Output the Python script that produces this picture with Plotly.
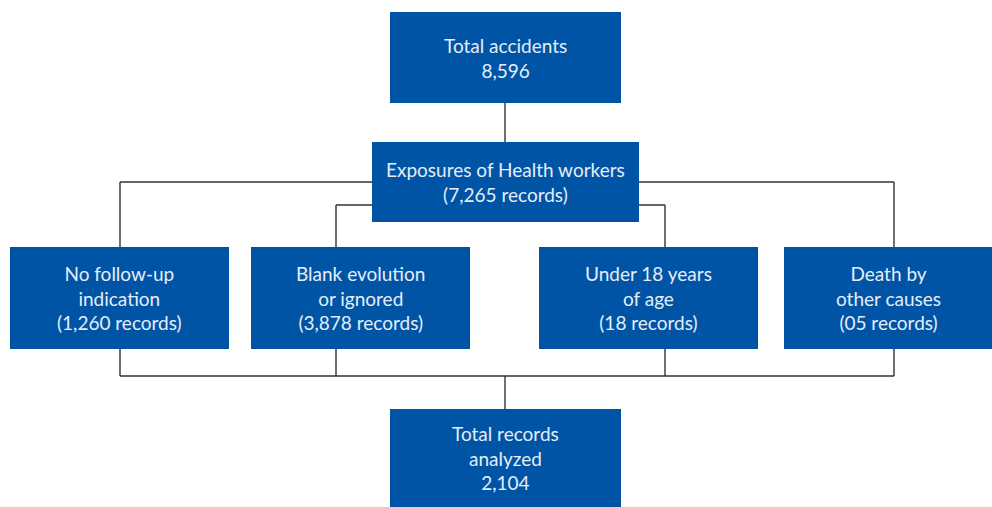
import plotly.graph_objects as go

# Data: box labels (flowchart)
top_label = ["Total accidents", "8,596"]
mid_label = ["Exposures of Health workers", "(7,265 records)"]
excl_labels = [
    ["No follow-up", "indication", "(1,260 records)"],
    ["Blank evolution", "or ignored", "(3,878 records)"],
    ["Under 18 years", "of age", "(18 records)"],
    ["Death by", "other causes", "(05 records)"],
]
bottom_label = ["Total records", "analyzed", "2,104"]

# Layout geometry (pixels)
W, H = 992, 507
BOX = "#0054A6"
LINE = "#333333"
TXT = "#E6EDF6"

top_box = (390, 621, 12, 103)
mid_box = (372, 639, 142, 222)
excl_boxes = [(10, 229, 247, 349), (251, 470, 247, 349), (539, 758, 247, 349), (784, 992, 247, 349)]
bot_box = (390, 621, 409, 507)
conn_x = [120, 336, 665, 894]
outer_y, inner_y, bottom_y = 182, 205, 376

fig = go.Figure()
shapes = []
annotations = []

def line(x0, y0, x1, y1):
    shapes.append(dict(type="line", xref="x", yref="y", x0=x0, y0=y0, x1=x1, y1=y1,
                       line=dict(color=LINE, width=1.4), layer="below"))

def box(b, lines):
    x0, x1, y0, y1 = b
    shapes.append(dict(type="rect", xref="x", yref="y", x0=x0, x1=x1, y0=y0, y1=y1,
                       fillcolor=BOX, line=dict(width=0), layer="above"))
    annotations.append(dict(x=(x0 + x1) / 2, y=(y0 + y1) / 2, xref="x", yref="y",
                            text="<br>".join(lines), showarrow=False,
                            font=dict(family="Lato", size=19, color=TXT),
                            align="center", xanchor="center", yanchor="middle"))

# connectors
line(505, 103, 505, 142)
line(conn_x[0], outer_y, conn_x[3], outer_y)
line(conn_x[1], inner_y, conn_x[2], inner_y)
for cx in conn_x:
    top = outer_y if cx in (conn_x[0], conn_x[3]) else inner_y
    line(cx, top, cx, bottom_y)
line(conn_x[0], bottom_y, conn_x[3], bottom_y)
line(505, bottom_y, 505, 409)

box(top_box, top_label)
box(mid_box, mid_label)
for b, l in zip(excl_boxes, excl_labels):
    box(b, l)
box(bot_box, bottom_label)

fig.update_layout(
    width=W, height=H,
    margin=dict(l=0, r=0, t=0, b=0),
    paper_bgcolor="white", plot_bgcolor="white",
    xaxis=dict(range=[0, W], visible=False, fixedrange=True),
    yaxis=dict(range=[H, 0], visible=False, fixedrange=True),
    shapes=shapes, annotations=annotations, showlegend=False,
)
fig.write_html("out.html", config={"displayModeBar": False},
               post_script="document.body.style.margin='0';document.body.style.overflow='hidden';")
